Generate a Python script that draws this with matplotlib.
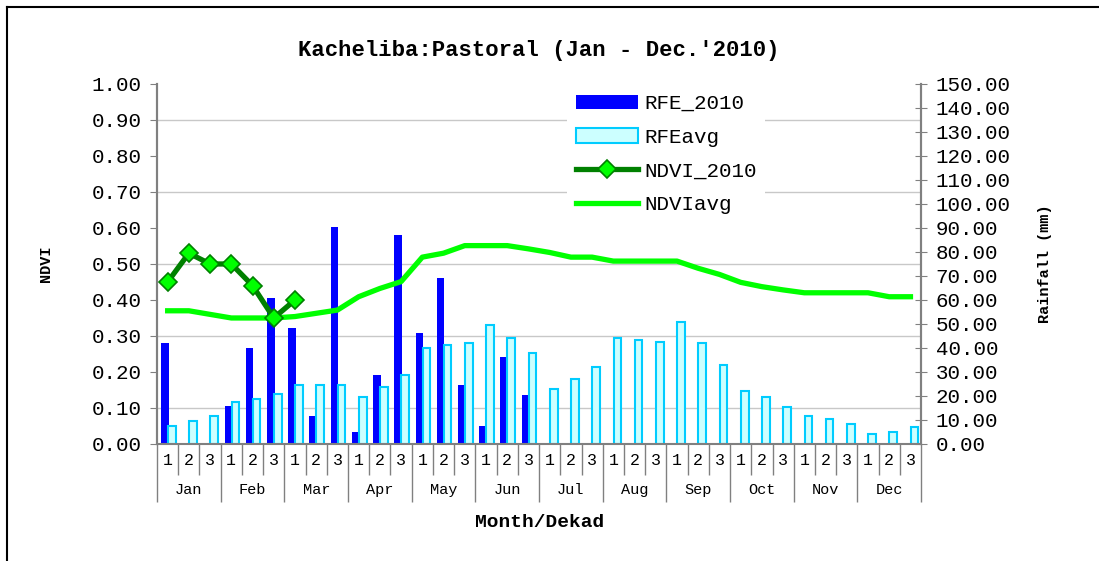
"""Kacheliba pastoral zone: dekadal rainfall (RFE) and NDVI for 2010 vs long-term average."""

import numpy as np
import matplotlib
matplotlib.use("Agg")
import matplotlib.pyplot as plt
import matplotlib.ticker as mticker
from matplotlib.lines import Line2D

# --- data ---
MONTHS = ["Jan", "Feb", "Mar", "Apr", "May", "Jun",
          "Jul", "Aug", "Sep", "Oct", "Nov", "Dec"]
DEKADS = ["1", "2", "3"]

rfe_2010 = [42.0, 0, 0, 16.0, 40.0, 61.0, 48.3, 11.8, 90.5,
            4.9, 28.6, 87.0, 46.1, 69.3, 24.6, 7.6, 36.4, 20.3,
            0, 0, 0, 0, 0, 0, 0, 0, 0,
            0, 0, 0, 0, 0, 0, 0, 0, 0]
rfe_avg = [7.5, 9.6, 11.8, 17.4, 18.8, 21.0, 24.4, 24.4, 24.4,
           19.4, 23.6, 28.6, 39.9, 41.3, 42.0, 49.6, 44.0, 37.8,
           22.9, 27.2, 32.2, 44.0, 43.3, 42.6, 51.0, 42.0, 32.8,
           22.2, 19.4, 15.3, 11.8, 10.4, 8.3, 4.0, 4.9, 7.0]
ndvi_2010 = [0.45, 0.53, 0.50, 0.50, 0.44, 0.35, 0.40]
ndvi_avg = [0.37, 0.37, 0.36, 0.35, 0.35, 0.35, 0.354, 0.363, 0.372,
            0.409, 0.432, 0.451, 0.519, 0.53, 0.551, 0.551, 0.551, 0.542,
            0.532, 0.519, 0.519, 0.508, 0.508, 0.508, 0.508, 0.488, 0.471,
            0.449, 0.437, 0.428, 0.42, 0.42, 0.42, 0.42, 0.409, 0.409]

# --- style ---
FONT = "Liberation Mono"
BLUE = "#0000FF"
CYAN_EDGE = "#00CCFF"
CYAN_FILL = "#CCFFFF"
DARK_GREEN = "#008000"
LIME = "#00FF00"
AXIS_GREY = "#808080"
GRID_GREY = "#C8C8C8"

plt.rcParams["font.family"] = [FONT, "DejaVu Sans Mono"]

fig = plt.figure(figsize=(10.99, 5.61), dpi=100)
ax = fig.add_axes([0.1429, 0.2086, 0.6952, 0.6417])   # NDVI (left)
ax2 = ax.twinx()                                    # rainfall (right)

n = len(rfe_avg)
x = np.arange(n)
bw = 0.36

# rainfall bars on the right axis
b1 = ax2.bar(x - 0.14, rfe_2010, width=bw, color=BLUE, edgecolor="none",
             label="RFE_2010", zorder=3)
b2 = ax2.bar(x + 0.19, rfe_avg, width=bw, color=CYAN_FILL, edgecolor=CYAN_EDGE,
             linewidth=1.5, label="RFEavg", zorder=3)
ax2.set_ylim(0, 150)
ax2.yaxis.set_major_locator(mticker.MultipleLocator(10))
ax2.yaxis.set_major_formatter(mticker.FormatStrFormatter("%.2f"))
# horizontal grid follows the NDVI ticks (every 0.1 -> every 15 mm)
ax2.yaxis.set_minor_locator(mticker.MultipleLocator(15))
ax2.grid(which="minor", axis="y", color=GRID_GREY, linewidth=1, zorder=0)
ax2.tick_params(axis="y", which="minor", length=0)
ax2.tick_params(axis="y", which="major", direction="inout", length=9,
                color=AXIS_GREY, labelsize=15, pad=6)
ax2.set_ylabel("Rainfall (mm)", fontsize=11, fontweight="bold", labelpad=20)

# NDVI lines on the left axis, drawn above the bars
ax.set_zorder(ax2.get_zorder() + 1)
ax.patch.set_visible(False)
l1, = ax.plot(np.arange(len(ndvi_2010)), ndvi_2010, color=DARK_GREEN, linewidth=3.8,
              marker="D", markersize=9, markerfacecolor=LIME, markeredgecolor=DARK_GREEN,
              markeredgewidth=1.2, label="NDVI_2010", zorder=5)
l2, = ax.plot(x, ndvi_avg, color=LIME, linewidth=3.8, label="NDVIavg", zorder=4)
ax.set_ylim(0, 1)
ax.set_xlim(-0.5, n - 0.5)
ax.yaxis.set_major_locator(mticker.MultipleLocator(0.1))
ax.yaxis.set_major_formatter(mticker.FormatStrFormatter("%.2f"))
ax.tick_params(axis="y", direction="out", length=5, color=AXIS_GREY, labelsize=15, pad=6)
ax.set_ylabel("NDVI", fontsize=11, fontweight="bold", labelpad=28)

for a in (ax, ax2):
    a.spines["top"].set_visible(False)
    a.spines["bottom"].set_visible(False)
    a.spines["left"].set_color(AXIS_GREY)
    a.spines["right"].set_color(AXIS_GREY)
    a.spines["left"].set_linewidth(1.5)
    a.spines["right"].set_linewidth(1.5)

# two-level category axis: dekad numbers and month names
ax.axhline(0, color=AXIS_GREY, linewidth=1.5, zorder=6, clip_on=False)
ax.set_xticks(np.arange(0, n + 1, 3) - 0.5)
ax.set_xticks(np.arange(0, n + 1) - 0.5, minor=True)
ax.tick_params(axis="x", which="major", length=42, color=AXIS_GREY, width=1, labelbottom=False)
ax.tick_params(axis="x", which="minor", length=22, color=AXIS_GREY, width=1)
ax2.tick_params(axis="x", which="both", length=0, labelbottom=False)

xt = ax.get_xaxis_transform()
for i in x:
    ax.text(i, -0.047, DEKADS[i % 3], transform=xt, ha="center", va="center", fontsize=12)
for m, name in enumerate(MONTHS):
    ax.text(3 * m + 1, -0.128, name, transform=xt, ha="center", va="center", fontsize=11)

fig.text(0.491, 0.069, "Month/Dekad", ha="center", va="center", fontsize=14, fontweight="bold")
ax.set_title("Kacheliba:Pastoral (Jan - Dec.'2010)", fontsize=16, fontweight="bold", pad=20)

leg = ax.legend(handles=[b1, b2, l1, l2], loc="upper left", bbox_to_anchor=(0.537, 0.995),
                borderaxespad=0, frameon=True, fancybox=False, edgecolor="none",
                facecolor="white", framealpha=1, fontsize=15, handlelength=3.0,
                labelspacing=0.7, handletextpad=0.3)

# chart border (top and left edges visible in the reference)
fig.add_artist(Line2D([0.006, 0.006], [0.0, 0.988], transform=fig.transFigure,
                      color="black", linewidth=1.5))
fig.add_artist(Line2D([0.006, 1.0], [0.988, 0.988], transform=fig.transFigure,
                      color="black", linewidth=1.5))

fig.savefig("out.png", dpi=100)
